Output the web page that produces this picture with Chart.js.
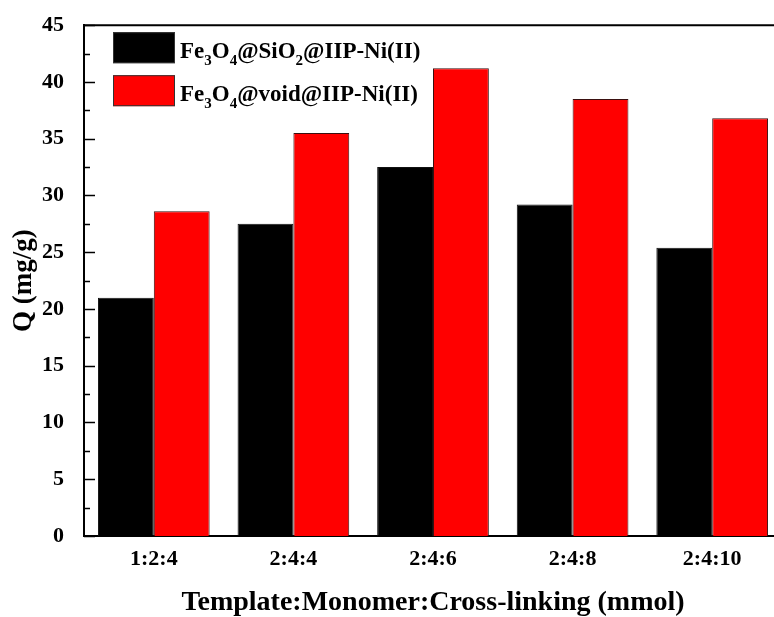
<!DOCTYPE html>
<html>
<head>
<meta charset="utf-8">
<script src="https://cdn.jsdelivr.net/npm/chart.js@4.4.1/dist/chart.umd.min.js"></script>
<style>
    html, body { margin: 0; padding: 0; background: #fff; overflow: hidden; }
    #wrap { position: absolute; left: 0; top: 0; width: 800px; height: 617px; }
</style>
</head>
<body>
<div id="wrap"><canvas id="chart" width="800" height="617"></canvas></div>
<script>
var ratios = ["1:2:4", "2:4:4", "2:4:6", "2:4:8", "2:4:10"];
var silicaLabel = "Fe3O4@SiO2@IIP-Ni(II)";
var voidLabel = "Fe3O4@void@IIP-Ni(II)";
var silicaQ = [21.0, 27.5, 32.5, 29.2, 25.4];
var voidQ = [28.6, 35.5, 41.2, 38.5, 36.8];
var yTicks = [0, 5, 10, 15, 20, 25, 30, 35, 40, 45];

var serif = "'Liberation Serif', 'Times New Roman', serif";

// digits in formulas are written as subscripts
function formulaParts(text) {
    return text.match(/\d+|\D+/g).map(function (s) {
        return { text: s, sub: /^\d+$/.test(s) };
    });
}

var frame = {
    id: "frame",
    afterDraw: function (chart) {
        var ctx = chart.ctx, a = chart.chartArea, y = chart.scales.y;
        ctx.save();
        ctx.strokeStyle = "#000";
        ctx.lineWidth = 2;
        ctx.beginPath();
        ctx.moveTo(a.left - 1, a.top);
        ctx.lineTo(a.right, a.top);
        ctx.lineTo(a.right, a.bottom);
        ctx.stroke();

        // inward ticks, majors every 5 and minors between
        ctx.lineWidth = 1.5;
        for (var v = 0; v <= 45; v += 2.5) {
            var py = Math.round(y.getPixelForValue(v)) + 0.5;
            var len = v % 5 === 0 ? 11 : 6;
            ctx.beginPath();
            ctx.moveTo(a.left, py);
            ctx.lineTo(a.left + len, py);
            ctx.stroke();
        }
        ctx.restore();
    }
};

var formulaLegend = {
    id: "formulaLegend",
    afterDraw: function (chart) {
        var ctx = chart.ctx, a = chart.chartArea;
        var bx = a.left + 29, by = a.top + 7;
        ctx.save();
        chart.data.datasets.forEach(function (ds, i) {
            var top = by + i * 43;
            ctx.fillStyle = ds.backgroundColor;
            ctx.fillRect(bx, top, 62, 31);
            ctx.strokeStyle = "#333";
            ctx.lineWidth = 1;
            ctx.strokeRect(bx + 0.5, top + 0.5, 61, 30);

            var x = bx + 67, base = top + 26;
            ctx.fillStyle = "#000";
            ctx.textBaseline = "alphabetic";
            formulaParts(ds.label).forEach(function (p) {
                ctx.font = "bold " + (p.sub ? 15 : 23) + "px " + serif;
                ctx.fillText(p.text, x, p.sub ? base + 7 : base);
                x += ctx.measureText(p.text).width;
            });
        });
        ctx.restore();
    }
};

new Chart(document.getElementById("chart"), {
    type: "bar",
    data: {
        labels: ratios,
        datasets: [{
            label: silicaLabel,
            data: silicaQ,
            backgroundColor: "#000000",
            borderColor: "#111",
            borderWidth: 1
        }, {
            label: voidLabel,
            data: voidQ,
            backgroundColor: "#ff0000",
            borderColor: "#3a1010",
            borderWidth: 1
        }]
    },
    options: {
        responsive: false,
        animation: false,
        categoryPercentage: 0.8,
        barPercentage: 1.0,
        layout: { padding: { left: 0, top: 24, right: 18, bottom: 0 } },
        plugins: {
            legend: { display: false },
            tooltip: { enabled: false }
        },
        scales: {
            x: {
                grid: { display: false },
                border: { display: true, color: "#000", width: 2 },
                ticks: {
                    color: "#000",
                    padding: 2,
                    font: { family: serif, size: 22, weight: "bold" }
                },
                title: {
                    display: true,
                    text: "Template:Monomer:Cross-linking (mmol)",
                    color: "#000",
                    padding: { top: 0, bottom: 0 },
                    font: { family: serif, size: 28, weight: "bold", lineHeight: 1 }
                },
                afterFit: function (scale) { scale.height = 81; }
            },
            y: {
                min: 0,
                max: 45,
                grid: { display: false },
                border: { display: true, color: "#000", width: 2 },
                afterBuildTicks: function (scale) {
                    scale.ticks = yTicks.map(function (v) { return { value: v }; });
                },
                ticks: {
                    color: "#000",
                    padding: 12,
                    font: { family: serif, size: 22, weight: "bold" }
                },
                title: {
                    display: true,
                    text: "Q (mg/g)",
                    color: "#000",
                    padding: { top: 11, bottom: 0 },
                    font: { family: serif, size: 27, weight: "bold", lineHeight: 1 }
                },
                afterFit: function (scale) { scale.width = 84; }
            }
        }
    },
    plugins: [frame, formulaLegend]
});
</script>
</body>
</html>
